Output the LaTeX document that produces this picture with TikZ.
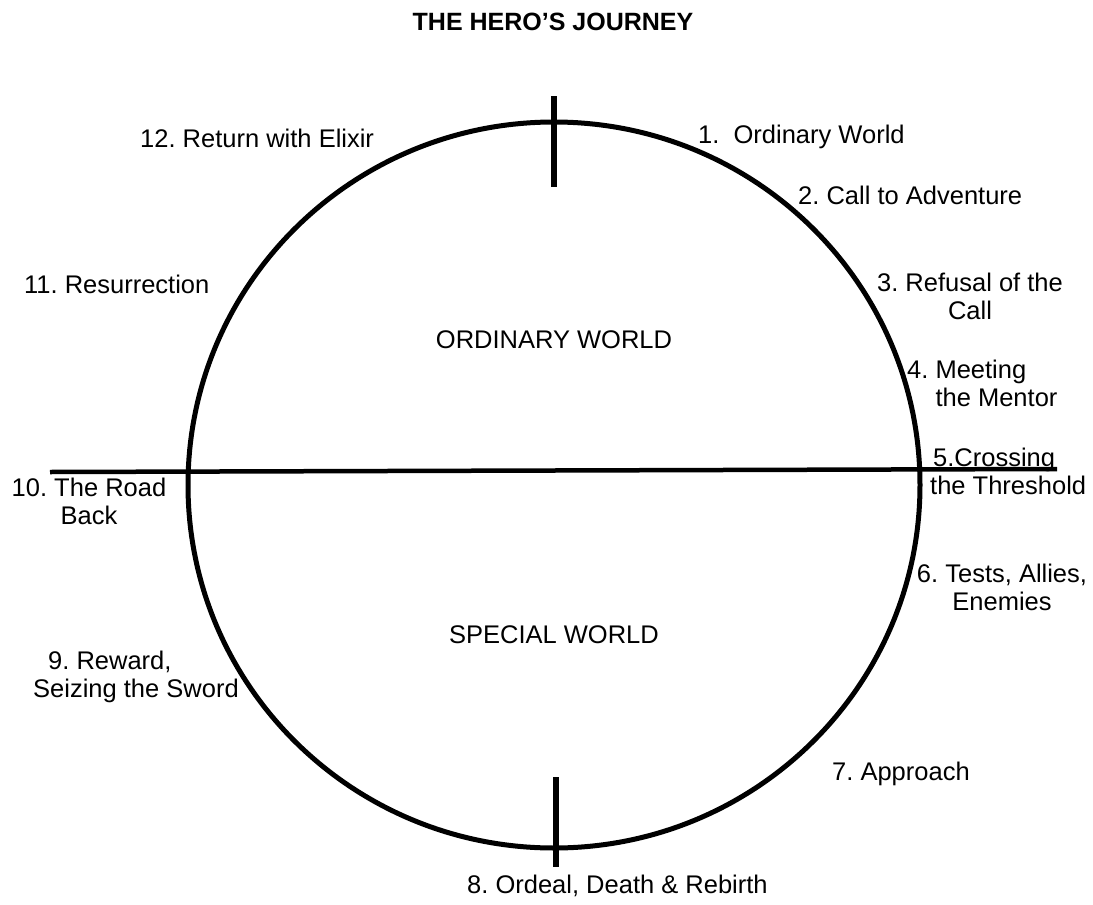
\documentclass[tikz,border=0pt]{standalone}
\usepackage{fontspec}
\setmainfont{Liberation Sans}
\usepackage{tikz}
\frenchspacing

\begin{document}
\begin{tikzpicture}[x=1pt,y=-1pt,every node/.style={font=\fontsize{25.5}{28}\selectfont,inner sep=0pt}]
	\useasboundingbox (0,0) rectangle (1093,905);
	\draw[line width=5pt] (554,485) ellipse [x radius=366, y radius=363];
	\draw[line width=4.5pt] (50,472) -- (1057,469);
	\draw[line width=6pt] (554,96) -- (554,187);
	\draw[line width=6pt] (556,777) -- (556,867);
	\node[font=\fontsize{25}{28}\selectfont\bfseries] (title) at (553,22) {THE HERO’S JOURNEY};
	\node (ordinary) at (554,340) {ORDINARY WORLD};
	\node (special) at (554,635) {SPECIAL WORLD};
	\node[anchor=west] (s1) at (698,137) {1.\ \ Ordinary World};
	\node[anchor=west] (s2) at (798,195) {2. Call to Adventure};
	\node[align=center] (s3) at (970,296) {3. Refusal of the\\Call};
	\node[anchor=west, align=left] (s4) at (907,383) {4. Meeting\\\phantom{4. }the Mentor};
	\node[anchor=west, align=left] (s5) at (930,471) {\hspace*{3pt}5.Crossing\\the Threshold};
	\node[align=center] (s6) at (1002,587) {6. Tests, Allies,\\Enemies};
	\node[anchor=west] (s7) at (832,774) {7. Approach};
	\node[anchor=west] (s8) at (467,886) {8. Ordeal, Death \& Rebirth};
	\node[anchor=west, align=left] (s9) at (33,677) {\hspace*{15pt}9. Reward,\\Seizing the Sword};
	\node[align=center] (s10) at (89,501) {10. The Road\\Back};
	\node[anchor=west] (s11) at (24,284) {11. Resurrection};
	\node[anchor=west] (s12) at (140,138) {12. Return with Elixir};
\end{tikzpicture}
\end{document}
